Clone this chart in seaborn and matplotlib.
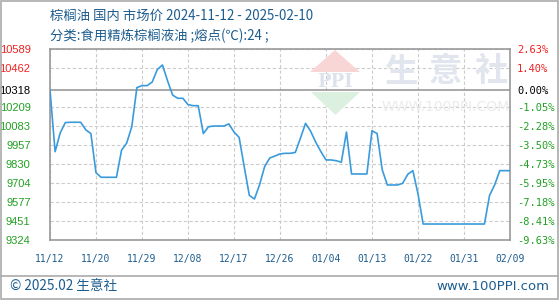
import matplotlib
matplotlib.use("Agg")
import matplotlib.pyplot as plt
import seaborn as sns
import pandas as pd
from matplotlib.patches import Polygon, Rectangle
from matplotlib.lines import Line2D

# ---- data ----
title_line1 = "棕榈油 国内 市场价 2024-11-12 - 2025-02-10"
title_line2 = "分类:食用精炼棕榈液油 ;熔点(℃):24 ;"
base_price = 10318
prices = [
    10318, 9910, 10035, 10103, 10105, 10105, 10105, 10055, 10030, 9770,
    9740, 9740, 9740, 9740, 9920, 9967, 10075, 10335, 10348, 10348,
    10372, 10455, 10485, 10380, 10285, 10264, 10264, 10222, 10215, 10215,
    10030, 10075, 10080, 10080, 10080, 10094, 10040, 10005, 9810, 9620,
    9596, 9690, 9812, 9868, 9881, 9895, 9899, 9899, 9905, 10000,
    10098, 10045, 9972, 9910, 9855, 9855, 9850, 9840, 10040, 9762,
    9762, 9762, 9762, 10049, 10030, 9790, 9689, 9689, 9689, 9700,
    9760, 9784, 9630, 9430, 9430, 9430, 9430, 9430, 9430, 9430,
    9430, 9430, 9430, 9430, 9430, 9430, 9620, 9690, 9784, 9784,
    9784,
]
x_labels = ["11/12", "11/20", "11/29", "12/08", "12/17", "12/26",
            "01/04", "01/13", "01/22", "01/31", "02/09"]
left_ticks = [10589, 10462, 10318, 10209, 10083, 9957, 9830, 9704, 9577, 9451, 9324]
right_labels = ["2.63%", "1.40%", "0.00%", "-1.05%", "-2.28%", "-3.50%",
                "-4.73%", "-5.95%", "-7.18%", "-8.41%", "-9.63%"]
footer_left = "© 2025.02 生意社"
footer_right = "www.100PPI.com"

# ---- style ----
sns.set_theme(style="white")
plt.rcParams["font.family"] = ["Noto Sans CJK SC", "DejaVu Sans"]

W, H = 560, 300
fig = plt.figure(figsize=(W / 100, H / 100), dpi=100)
fig.patch.set_facecolor("white")

def fx(px):
    return px / W

def fy(py):
    return 1 - py / H

L, R, T, B = 50, 510, 49.3, 240
ax = fig.add_axes([fx(L), fy(B), fx(R) - fx(L), fy(T) - fy(B)])

df = pd.DataFrame({"idx": range(len(prices)), "price": prices})
sns.lineplot(data=df, x="idx", y="price", ax=ax, color="#3a9bdc", lw=1.2, zorder=3)

n = len(prices) - 1
step = n / (len(x_labels) - 1)
xt = [i * step for i in range(len(x_labels))]
ax.set_xlim(0, n)
ax.set_ylim(min(left_ticks), max(left_ticks))
ax.set_xticks(xt)
ax.set_xticklabels(x_labels)
ax.set_yticks(left_ticks)
ax.set_yticklabels([str(v) for v in left_ticks])
ax.set_xlabel("")
ax.set_ylabel("")

grid_kw = dict(color="#cccccc", lw=0.8, ls=(0, (3, 2)), zorder=1)
for v in left_ticks:
    if v == base_price:
        ax.axhline(v, color="#999999", lw=1.2, zorder=2)
    else:
        ax.axhline(v, **grid_kw)
for x in xt:
    ax.axvline(x, **grid_kw)

for s in ax.spines.values():
    s.set_color("#999999")
    s.set_linewidth(1.2)
    s.set_visible(True)

blue = "#1d5d8e"
red = "#ee2222"
green = "#22a022"
ax.tick_params(axis="both", length=0)
ax.tick_params(axis="x", pad=10)
ax.tick_params(axis="y", pad=14)
for lab in ax.get_xticklabels():
    lab.set_fontfamily("DejaVu Sans Mono")
    lab.set_fontsize(7)
    lab.set_color(blue)
for lab, v in zip(ax.get_yticklabels(), left_ticks):
    lab.set_fontfamily("Liberation Sans")
    lab.set_fontsize(8)
    lab.set_color(red if v > base_price else ("black" if v == base_price else green))

ax2 = ax.twinx()
ax2.set_ylim(ax.get_ylim())
ax2.set_yticks(left_ticks)
ax2.set_yticklabels(right_labels)
ax2.tick_params(axis="y", length=0, pad=5)
for s in ax2.spines.values():
    s.set_visible(False)
for lab, v in zip(ax2.get_yticklabels(), left_ticks):
    lab.set_fontfamily("DejaVu Sans Mono")
    lab.set_fontsize(7.5)
    lab.set_color(red if v > base_price else ("black" if v == base_price else green))
ax2.grid(False)

# ---- watermark ----
ax.patch.set_alpha(0)
wm_z = 0
fig.patches.append(Polygon([(fx(310), fy(72)), (fx(335), fy(50)), (fx(360), fy(72))],
                           closed=True, transform=fig.transFigure, facecolor="#f9d6d6",
                           edgecolor="none", zorder=wm_z))
fig.patches.append(Polygon([(fx(311), fy(92)), (fx(360), fy(92)), (fx(335.5), fy(115))],
                           closed=True, transform=fig.transFigure, facecolor="#dcf0e0",
                           edgecolor="none", zorder=wm_z))
fig.text(fx(335), fy(82), "PPI", fontsize=13, fontweight="bold", color="#dde2ec",
         ha="center", va="center", family="DejaVu Serif", zorder=wm_z)
for cx, ch in zip([401.7, 445, 491], "生意社"):
    fig.text(fx(cx), fy(72), ch, fontsize=24, fontweight="bold", color="#e1e5ee",
             ha="center", va="center", zorder=wm_z)
fig.text(fx(446), fy(106.7), "WWW.100PPI.COM", fontsize=10, color="#ebebeb",
         ha="center", va="center", family="DejaVu Sans", zorder=wm_z)

# ---- titles ----
fig.text(fx(50), fy(16), title_line1, fontsize=9.6, color=blue, ha="left", va="center")
fig.text(fx(50), fy(36), title_line2, fontsize=9.6, color=blue, ha="left", va="center")

# ---- footer & border ----
fig.lines.append(Line2D([fx(1), fx(558)], [fy(275.5), fy(275.5)], transform=fig.transFigure,
                        color="#aaaaaa", lw=1.2))
fig.text(fx(10), fy(286), footer_left, fontsize=9.8, color=blue, ha="left", va="center")
fig.text(fx(549), fy(286), footer_right, fontsize=9.5, color=blue, ha="right", va="center",
         family="DejaVu Sans")
fig.patches.append(Rectangle((fx(1), fy(299)), fx(557), fy(1) - fy(299), transform=fig.transFigure,
                             fill=False, edgecolor="#aaaaaa", lw=1.2))

fig.savefig("out.png", dpi=100)
